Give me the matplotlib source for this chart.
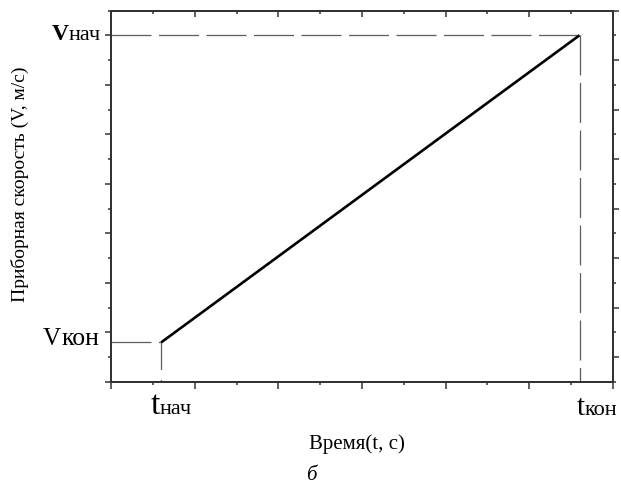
import matplotlib.pyplot as plt
from matplotlib.offsetbox import TextArea, HPacker, AnnotationBbox
from matplotlib.ticker import MultipleLocator, FixedLocator
import numpy as np

# line data (time axis 0..6, speed axis 0..7.5)
t_points = [0.6, 5.6]
v_points = [0.8, 7.0]
x_range = [0, 6]
y_range = [0, 7.5]

serif = 'Liberation Serif'
spine_col = '#333333'
dash_col = '#5e5e5e'

fig = plt.figure(figsize=(6.21, 4.86), dpi=100)
ax = fig.add_axes([111/621, 1 - 382/486, 502/621, 371.5/486])

ax.plot(t_points, v_points, color='black', lw=1.9, solid_capstyle='butt', zorder=3)

# guide dashes
dash = (0, (32, 6))
ax.plot([x_range[0], t_points[0]], [v_points[0], v_points[0]], color=dash_col, lw=0.9, ls=dash)
ax.plot([t_points[0], t_points[0]], [v_points[0], y_range[0]], color=dash_col, lw=0.9, ls=(0, (22, 8)))
ax.plot([x_range[0], t_points[1]], [v_points[1], v_points[1]], color=dash_col, lw=0.9, ls=dash)
ax.plot([t_points[1], t_points[1]], [v_points[1], y_range[0]], color=dash_col, lw=0.9, ls=dash)

ax.set_xlim(x_range)
ax.set_ylim(y_range)

for s in ax.spines.values():
    s.set_color(spine_col)
    s.set_linewidth(1.3)

# bottom / left ticks (outward)
ax.xaxis.set_major_locator(MultipleLocator(1))
ax.xaxis.set_minor_locator(MultipleLocator(0.5))
ax.yaxis.set_major_locator(MultipleLocator(1))
ax.yaxis.set_minor_locator(MultipleLocator(0.5))
ax.tick_params(axis='x', which='major', direction='out', length=5, width=1.1, color=spine_col, labelbottom=False)
ax.tick_params(axis='x', which='minor', direction='out', length=2.5, width=1.1, color=spine_col)
ax.tick_params(axis='y', which='major', direction='out', length=4.3, width=1.1, color=spine_col, labelleft=False)
ax.tick_params(axis='y', which='minor', direction='out', length=2.3, width=1.1, color=spine_col)

# top ticks (inward)
axt = ax.twiny()
axt.set_xlim(x_range)
axt.xaxis.set_major_locator(MultipleLocator(1))
axt.xaxis.set_minor_locator(MultipleLocator(0.5))
axt.tick_params(axis='x', which='major', direction='in', length=4.3, width=1.1, color=spine_col, labeltop=False)
axt.tick_params(axis='x', which='minor', direction='in', length=2.3, width=1.1, color=spine_col)

# right ticks (outward, shifted by half a step)
axr = ax.twinx()
axr.set_ylim(y_range)
axr.yaxis.set_major_locator(FixedLocator(np.arange(0.5, 7.6, 1)))
axr.yaxis.set_minor_locator(FixedLocator(np.arange(0, 7.6, 1)))
axr.tick_params(axis='y', which='major', direction='out', length=4.3, width=1.1, color=spine_col, labelright=False)
axr.tick_params(axis='y', which='minor', direction='out', length=2.3, width=1.1, color=spine_col)
for a in (axt, axr):
    for s in a.spines.values():
        s.set_color(spine_col)
        s.set_linewidth(1.3)


def label(big, small, big_size, small_size, xy, offset, align, weight='normal'):
    box = HPacker(children=[
        TextArea(big, textprops=dict(fontfamily=serif, fontsize=big_size, fontweight=weight)),
        TextArea(small, textprops=dict(fontfamily=serif, fontsize=small_size)),
    ], align='baseline', pad=0, sep=0)
    ab = AnnotationBbox(box, xy, xycoords='data', xybox=offset, boxcoords='offset points',
                        box_alignment=align, frameon=False, pad=0)
    ax.add_artist(ab)


px = 0.72
label('V', 'нач', 17, 16, (0, v_points[1]), (-10 * px, 1 * px), (1, 0.5), weight='bold')
label('V', 'кон', 18, 18.5, (0, v_points[0]), (-12 * px, 3 * px), (1, 0.5))
label('t', 'нач', 24, 16, (t_points[0], 0), (-11 * px, -9 * px), (0, 1))
label('t', 'кон', 21, 16, (t_points[1], 0), (-3 * px, -13 * px), (0, 1))

fig.text(20 / 621, 1 - 184 / 486, 'Приборная скорость (V, м/с)', rotation=90,
         ha='center', va='center', fontfamily=serif, fontsize=14)
fig.text(357 / 621, 1 - 444 / 486, 'Время(t, с)', ha='center', va='center',
         fontfamily=serif, fontsize=15)
fig.text(311 / 621, 1 - 475 / 486, 'б', ha='center', va='center',
         fontfamily=serif, fontsize=15, fontstyle='italic')

fig.savefig('out.png', dpi=100)
